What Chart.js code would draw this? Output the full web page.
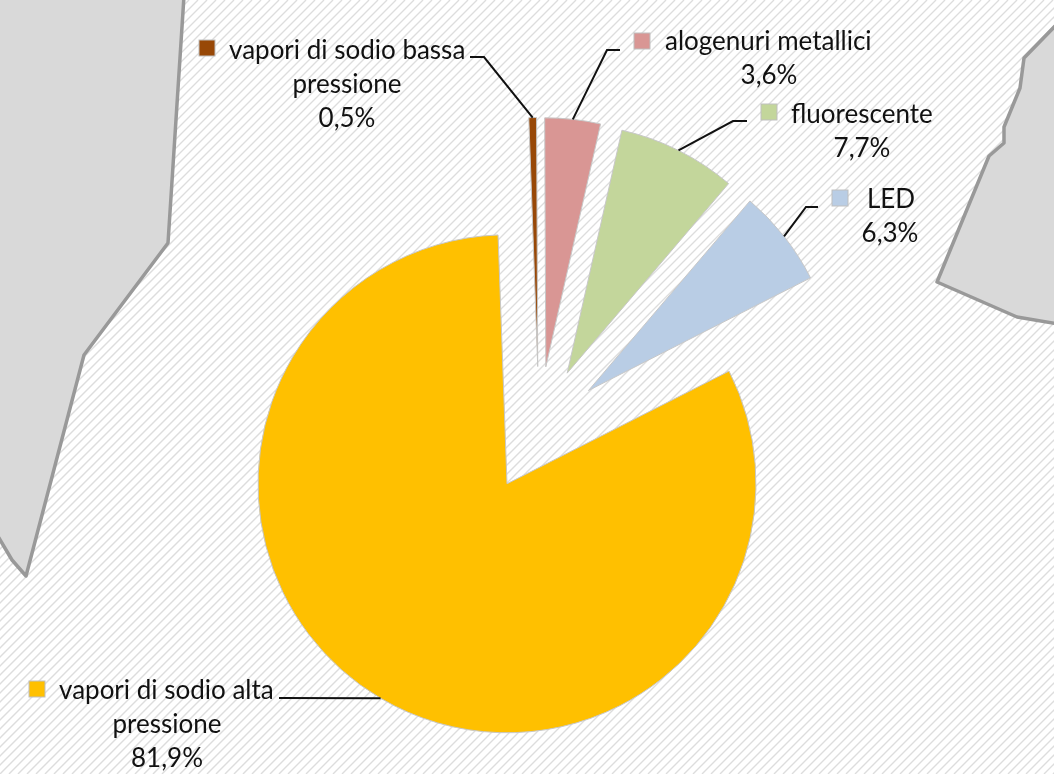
<!DOCTYPE html>
<html>
<head>
<meta charset="utf-8">
<title>Lampade</title>
<script src="https://cdn.jsdelivr.net/npm/chart.js@4"></script>
<style>
  html, body { margin: 0; padding: 0; background: #fff; }
  canvas { display: block; }
</style>
</head>
<body>
<canvas id="pie" width="1054" height="774"></canvas>
<script>
const categories = [
  ['vapori di sodio alta', 'pressione'],
  ['vapori di sodio bassa', 'pressione'],
  ['alogenuri metallici'],
  ['fluorescente'],
  ['LED']
];
const shares = [81.9, 0.5, 3.6, 7.7, 6.3];
const colors = ['#FFC000', '#984807', '#D99694', '#C3D69B', '#B9CDE5'];

// where the callouts sit: first text line x, y, centre of the other lines, key x, y
const callouts = [
  { x: 59, y: 691, cx: 167, keyX: 29, keyY: 681, elbow: [279, 698], end: [279, 698] },
  { x: 229, y: 51, cx: 347, keyX: 199, keyY: 40, elbow: [484, 57], end: [470, 57] },
  { x: 665, y: 42, cx: 769, keyX: 634, keyY: 33, elbow: [607, 50], end: [620, 50] },
  { x: 791, y: 115, cx: 862, keyX: 761, keyY: 104, elbow: [733, 121], end: [747, 121] },
  { x: 867, y: 200, cx: 890, keyX: 832, keyY: 190, elbow: [806, 207], end: [818, 207] }
];

// grey land shapes behind the chart
const landLeft = [[184, -4], [168, 243], [84, 355], [26, 576], [12, 560], [-4, 533], [-4, -4]];
const landRight = [[1058, 23], [1024, 58], [1020, 88], [1004, 127], [1004, 143], [989, 156], [937, 282], [1017, 317], [1058, 324]];

const explode = 63;
const lineGap = 34;

// Chart.js grows the radius together with its offset option, so move the slices here instead
const arcDraw = Chart.ArcElement.prototype.draw;
Chart.ArcElement.prototype.draw = function (ctx) {
  const mid = (this.startAngle + this.endAngle) / 2;
  ctx.save();
  ctx.translate(Math.cos(mid) * explode, Math.sin(mid) * explode);
  arcDraw.call(this, ctx);
  ctx.restore();
};

function drawLand(ctx, points) {
  ctx.beginPath();
  points.forEach((p, i) => i ? ctx.lineTo(p[0], p[1]) : ctx.moveTo(p[0], p[1]));
  ctx.closePath();
  ctx.fillStyle = '#D9D9D9';
  ctx.strokeStyle = '#999999';
  ctx.lineWidth = 3.5;
  ctx.lineJoin = 'round';
  ctx.fill();
  ctx.stroke();
}

const background = {
  id: 'background',
  beforeDraw(chart) {
    const { ctx, width, height } = chart;
    ctx.save();
    ctx.fillStyle = '#fff';
    ctx.fillRect(0, 0, width, height);
    ctx.strokeStyle = '#DDDDDD';
    ctx.lineWidth = 1.4;
    ctx.beginPath();
    for (let x = 0; x < width + height; x += 9) {
      ctx.moveTo(x, 0);
      ctx.lineTo(x - height, height);
    }
    ctx.stroke();
    drawLand(ctx, landLeft);
    drawLand(ctx, landRight);
    ctx.restore();
  }
};

const labels = {
  id: 'calloutLabels',
  afterDraw(chart) {
    const { ctx } = chart;
    const arcs = chart.getDatasetMeta(0).data;
    ctx.save();
    ctx.font = '26px Lato';
    ctx.textBaseline = 'middle';
    callouts.forEach((c, i) => {
      // leader line from the middle of the slice's outer edge
      const arc = arcs[i];
      const mid = (arc.startAngle + arc.endAngle) / 2;
      const r = arc.outerRadius + explode;
      ctx.strokeStyle = '#111';
      ctx.lineWidth = 2;
      ctx.beginPath();
      ctx.moveTo(c.end[0], c.end[1]);
      ctx.lineTo(c.elbow[0], c.elbow[1]);
      ctx.lineTo(arc.x + Math.cos(mid) * r, arc.y + Math.sin(mid) * r);
      ctx.stroke();

      ctx.fillStyle = colors[i];
      ctx.strokeStyle = '#BFBFBF';
      ctx.lineWidth = 1;
      ctx.fillRect(c.keyX, c.keyY, 16, 16);
      ctx.strokeRect(c.keyX, c.keyY, 16, 16);

      ctx.fillStyle = '#111111';
      ctx.textAlign = 'left';
      ctx.fillText(categories[i][0], c.x, c.y);
      ctx.textAlign = 'center';
      let y = c.y;
      categories[i].slice(1).forEach(line => {
        y += lineGap;
        ctx.fillText(line, c.cx, y);
      });
      ctx.fillText(shares[i].toFixed(1).replace('.', ',') + '%', c.cx, y + lineGap);
    });
    ctx.restore();
  }
};

new Chart(document.getElementById('pie').getContext('2d'), {
  type: 'pie',
  data: {
    labels: categories.map(c => c.join(' ')),
    datasets: [{
      data: shares,
      backgroundColor: colors,
      borderColor: '#C8C8C8',
      borderWidth: 1,
      clip: false
    }]
  },
  options: {
    responsive: false,
    animation: false,
    rotation: 63.1,
    radius: 249,
    layout: { padding: { left: 24, top: 85 } },
    plugins: {
      legend: { display: false },
      tooltip: { enabled: false }
    }
  },
  plugins: [background, labels]
});
</script>
</body>
</html>
